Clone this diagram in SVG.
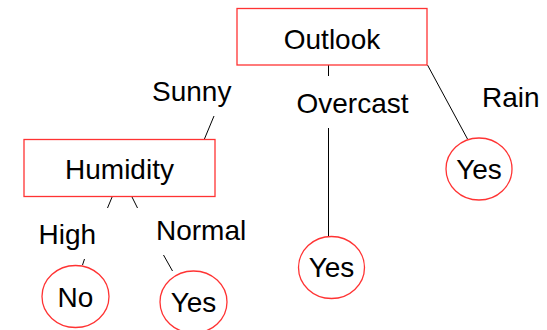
<svg xmlns="http://www.w3.org/2000/svg" width="547" height="330" viewBox="0 0 547 330">
  <style>
    .box { fill: #fff; stroke: #ff3333; stroke-width: 1.3; }
    .leaf { fill: #fff; stroke: #ff3333; stroke-width: 1.3; }
    .edge { stroke: #000; stroke-width: 1; fill: none; }
    text { font-family: "Liberation Sans", Arial, sans-serif; font-size: 28px; fill: #000; }
    .c { text-anchor: middle; }
  </style>
  <rect width="547" height="330" fill="#fff"/>
  <!-- connectors and branch labels -->
  <g id="connectors">
    <line class="edge" x1="214" y1="116" x2="204" y2="140"/>
    <line class="edge" x1="328.5" y1="65" x2="328.5" y2="76"/>
    <line class="edge" x1="328.5" y1="128" x2="328.5" y2="237"/>
    <line class="edge" x1="427.5" y1="65" x2="467.5" y2="139"/>
    <line class="edge" x1="112.5" y1="196" x2="107.5" y2="208"/>
    <line class="edge" x1="131.5" y1="196" x2="137.5" y2="208"/>
    <line class="edge" x1="84.5" y1="259" x2="82.5" y2="265"/>
    <line class="edge" x1="163.5" y1="255" x2="172.5" y2="271"/>
    <text x="152" y="101">Sunny</text>
    <text x="352.5" y="113" class="c">Overcast</text>
    <text x="482" y="107">Rain</text>
    <text x="38.5" y="243.5">High</text>
    <text x="156" y="240">Normal</text>
  </g>
  <g id="outlook">
    <rect class="box" x="237" y="8.5" width="190" height="56.5"/>
    <text x="332" y="48.5" class="c">Outlook</text>
  </g>
  <g id="humidity">
    <rect class="box" x="24" y="139.5" width="191" height="57"/>
    <text x="119.5" y="178.5" class="c">Humidity</text>
  </g>
  <g id="yes-overcast">
    <ellipse class="leaf" cx="331.5" cy="267.5" rx="33" ry="31"/>
    <text x="331.5" y="277" class="c">Yes</text>
  </g>
  <g id="yes-rain">
    <ellipse class="leaf" cx="479" cy="169" rx="33" ry="31"/>
    <text x="479" y="179" class="c">Yes</text>
  </g>
  <g id="no-high">
    <ellipse class="leaf" cx="75.5" cy="296.5" rx="33.5" ry="31"/>
    <text x="75.5" y="307" class="c">No</text>
  </g>
  <g id="yes-normal">
    <ellipse class="leaf" cx="193.5" cy="302" rx="33.5" ry="31"/>
    <text x="193.5" y="312" class="c">Yes</text>
  </g>
</svg>
